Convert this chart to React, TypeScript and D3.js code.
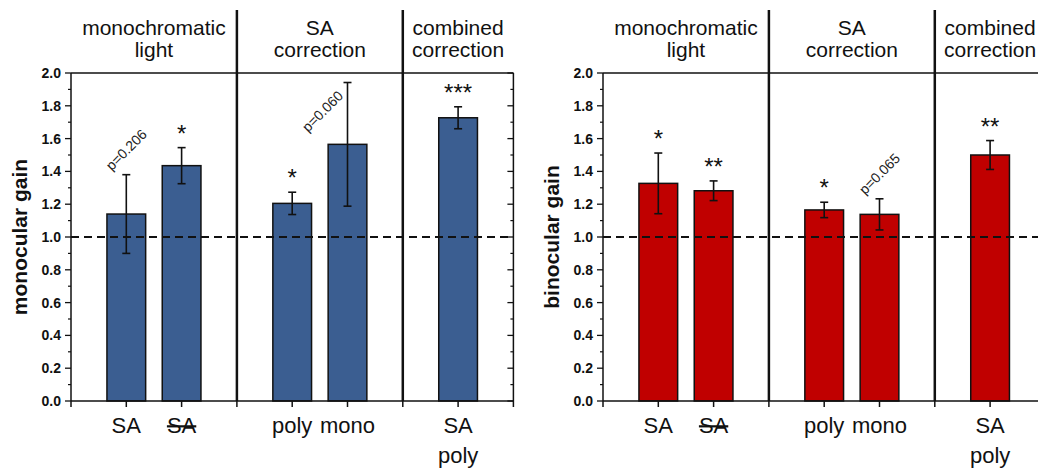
import * as d3 from 'd3';

// categories, drawn at integer slots 1,2 | 4,5 | 7 of a 0..8 axis
const categories = [['SA'], ['SA'], ['poly'], ['mono'], ['SA', 'poly']];
const struck = [false, true, false, false, false];
const positions = [1, 2, 4, 5, 7];
const groupLabels = [['monochromatic', 'light'], ['SA', 'correction'], ['combined', 'correction']];
const groupEdges = [0, 3, 6, 8];

const monocularGain = [1.14, 1.435, 1.205, 1.565, 1.727];
const monocularErr = [0.24, 0.11, 0.068, 0.377, 0.067];
const monocularMarks = ['p=0.206', '*', '*', 'p=0.060', '***'];

const binocularGain = [1.327, 1.282, 1.165, 1.138, 1.5];
const binocularErr = [0.185, 0.06, 0.047, 0.095, 0.088];
const binocularMarks = ['*', '**', '*', 'p=0.065', '**'];

const FONT = '"Liberation Sans", Arial, sans-serif';

type PanelProps = {
  x0: number;
  title: string;
  gain: number[];
  err: number[];
  marks: string[];
  color: string;
};

function Panel({ x0, title, gain, err, marks, color }: PanelProps) {
  const unit = 55.3;
  const x = d3.scaleLinear().domain([0, 8]).range([x0, x0 + 8 * unit]);
  const y = d3.scaleLinear().domain([0, 2]).range([401, 73]);
  const major = y.ticks(10);
  const minor = d3.range(0.1, 2, 0.2);
  const barW = unit * 0.7;
  const xEnd = x(8);

  return (
    <g>
      {/* bars */}
      {gain.map((g, i) => (
        <rect key={'b' + i} x={x(positions[i]) - barW / 2} y={y(g)} width={barW} height={y(0) - y(g)}
          fill={color} stroke="#111" strokeWidth={1.5} />
      ))}
      {/* error bars */}
      {gain.map((g, i) => {
        const cx = x(positions[i]);
        return (
          <g key={'e' + i} stroke="#111" strokeWidth={1.6}>
            <line x1={cx} x2={cx} y1={y(g + err[i])} y2={y(g - err[i])} />
            <line x1={cx - 4} x2={cx + 4} y1={y(g + err[i])} y2={y(g + err[i])} />
            <line x1={cx - 4} x2={cx + 4} y1={y(g - err[i])} y2={y(g - err[i])} />
          </g>
        );
      })}
      {/* reference line */}
      <line x1={x(0)} x2={xEnd} y1={y(1)} y2={y(1)} stroke="#111" strokeWidth={2} strokeDasharray="8 5" />
      {/* frame */}
      <line x1={x(0)} x2={xEnd} y1={y(2)} y2={y(2)} stroke="#111" strokeWidth={1.5} />
      <line x1={x(0)} x2={xEnd} y1={y(0)} y2={y(0)} stroke="#111" strokeWidth={1.5} />
      <line x1={x(0)} x2={x(0)} y1={y(2)} y2={y(0)} stroke="#111" strokeWidth={1.5} />
      <line x1={xEnd} x2={xEnd} y1={y(2)} y2={y(0)} stroke="#111" strokeWidth={1.5} />
      {groupEdges.slice(1, -1).map((e, i) => (
        <line key={'s' + i} x1={x(e)} x2={x(e)} y1={10} y2={y(0)} stroke="#111" strokeWidth={2.5} />
      ))}
      {/* y ticks */}
      {major.map((t, i) => (
        <g key={'mt' + i} stroke="#111" strokeWidth={1.3}>
          <line x1={x(0) - 6} x2={x(0)} y1={y(t)} y2={y(t)} />
          <line x1={xEnd - 6} x2={xEnd} y1={y(t)} y2={y(t)} />
        </g>
      ))}
      {minor.map((t, i) => (
        <g key={'nt' + i} stroke="#111" strokeWidth={1.2}>
          <line x1={x(0) - 3} x2={x(0)} y1={y(t)} y2={y(t)} />
          <line x1={xEnd - 3} x2={xEnd} y1={y(t)} y2={y(t)} />
        </g>
      ))}
      {major.map((t, i) => (
        <text key={'yl' + i} x={x(0) - 10} y={y(t)} dy="0.36em" textAnchor="end" fontSize={14}
          fontWeight="bold" fill="#111">{d3.format('.1f')(t)}</text>
      ))}
      {/* x ticks */}
      {d3.range(0, 9).map((t) => (
        <line key={'xt' + t} x1={x(t)} x2={x(t)} y1={y(0)} y2={y(0) + 6} stroke="#111" strokeWidth={1.5} />
      ))}
      {categories.map((lines, i) => (
        <text key={'c' + i} x={x(positions[i])} y={433} textAnchor="middle" fontSize={22} fill="#111">
          {lines.map((l, j) => (
            <tspan key={j} x={x(positions[i])} dy={j === 0 ? 0 : 30}
              style={struck[i] ? { textDecoration: 'line-through' } : undefined}>{l}</tspan>
          ))}
        </text>
      ))}
      {/* group headers */}
      {groupLabels.map((lines, i) => {
        const cx = (x(groupEdges[i]) + x(groupEdges[i + 1])) / 2;
        return (
          <text key={'g' + i} x={cx} y={35} textAnchor="middle" fontSize={21} fill="#111">
            {lines.map((l, j) => (
              <tspan key={j} x={cx} dy={j === 0 ? 0 : 22}>{l}</tspan>
            ))}
          </text>
        );
      })}
      {/* significance marks */}
      {marks.map((m, i) => {
        const cx = x(positions[i]);
        const hi = gain[i] + err[i];
        if (m.startsWith('p')) {
          const px = hi > 1.8 ? cx - 25 : cx;
          const py = hi > 1.8 ? y(gain[i]) - 33 : y(hi) - 25;
          return (
            <text key={'m' + i} transform={`translate(${px},${py}) rotate(-45)`} textAnchor="middle"
              dy="0.35em" fontSize={14} fill="#222">{m}</text>
          );
        }
        return (
          <text key={'m' + i} x={cx} y={y(hi) - 6} textAnchor="middle" fontSize={24} fill="#111">{m}</text>
        );
      })}
      {/* y title */}
      <text transform={`translate(${x0 - 44},${y(1)}) rotate(-90)`} textAnchor="middle" fontSize={21}
        fontWeight="bold" fill="#111">{title}</text>
    </g>
  );
}

export default function App() {
  return (
    <svg width={1038} height={470} style={{ position: 'absolute', left: 0, top: 0, background: '#fff' }}
      fontFamily={FONT}>
      <rect width={1038} height={470} fill="#fff" />
      <Panel x0={71} title="monocular gain" gain={monocularGain} err={monocularErr} marks={monocularMarks}
        color="#3b5e91" />
      <Panel x0={603} title="binocular gain" gain={binocularGain} err={binocularErr} marks={binocularMarks}
        color="#c00000" />
    </svg>
  );
}
